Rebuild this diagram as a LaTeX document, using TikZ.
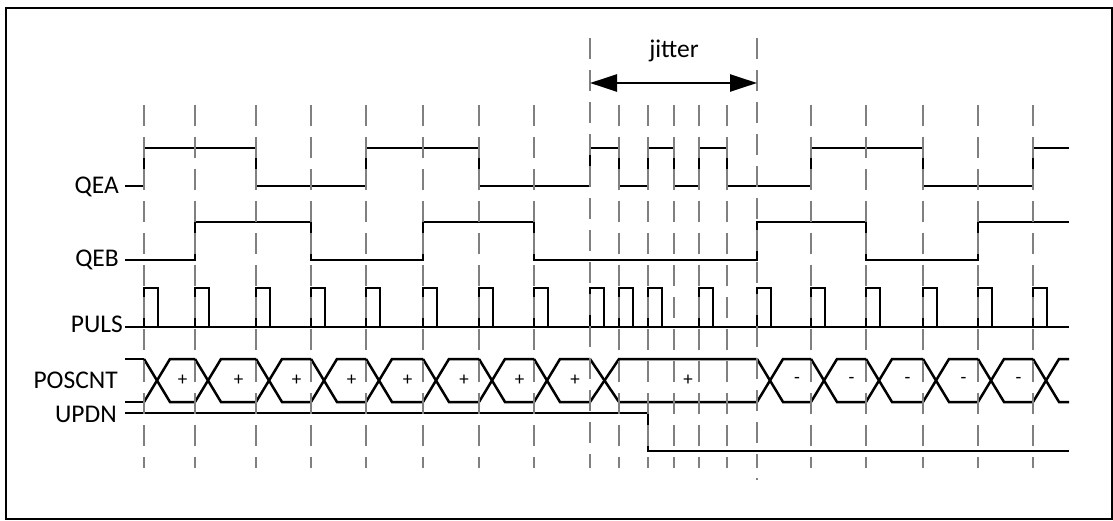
\documentclass[tikz,border=0pt]{standalone}
\usepackage{fontspec}
\setmainfont{Carlito}
\usetikzlibrary{arrows.meta}

\tikzset{
    sig/.style={line width=2.5pt, black},
    guide/.style={line width=2.3pt, black!50, dash pattern=on 21pt off 11pt},
    lbl/.style={anchor=east, inner sep=0pt, font=\fontsize{25.5}{30}\selectfont},
    cnt/.style={inner sep=0pt, font=\fontsize{19}{22}\selectfont}
}

\begin{document}
\begin{tikzpicture}[x=1pt,y=-1pt]
            \useasboundingbox (0,0) rectangle (1113,521);
            \draw [line width=1.2pt] (6,8) rectangle (1112,519);

            \node (QEA) at (119,187) [lbl] {QEA};
            \node (QEB) at (119,260) [lbl] {QEB};
            \node (PULS) at (123,324) [lbl] {PULS};
            \node (POSCNT) at (118,380) [lbl] {POSCNT};
            \node (UPDN) at (117,414) [lbl] {UPDN};

            % QEA and QEB
            \draw [sig] (125,186) -- (144,186) |- (256,148) |- (366,186) |- (479,148) |- (590,186)
                |- (619,148) |- (648,186) |- (674,148) |- (699,186) |- (727,148) |- (811,186)
                |- (923,148) |- (1033,186) |- (1069,148);
            \draw [sig] (125,260) -- (195,260) |- (311,222) |- (423,260) |- (534,222) |- (757,260)
                |- (866,222) |- (978,260) |- (1069,222);

            % PULS
            \draw [sig] (125,327) -- (1069,327);
            \foreach \x in {144,195,256,311,366,423,479,534,590,619,648,699,757,811,866,923,978,1033}
                {
                    \draw [sig] (\x,327) |- (\x+14,288) -- (\x+14,327);
                }

            % POSCNT
            \draw [sig] (125,359) -- (144,359) (125,402) -- (144,402);
            \foreach \x/\w/\n/\s in {144/26/195/+, 195/26/256/+, 256/26/311/+, 311/26/366/+,
                    366/26/423/+, 423/26/479/+, 479/26/534/+, 534/26/590/+, 590/29/757/+,
                    757/26/811/-, 811/26/866/-, 866/26/923/-, 923/26/978/-, 978/26/1033/-}
                {
                    \draw [sig] (\x,359) -- (\x+\w,402) -- (\n,402);
                    \draw [sig] (\x,402) -- (\x+\w,359) -- (\n,359);
                    \node at ({(\x+\w+\n)/2},380) [cnt] {\s};
                }
            \draw [sig] (1033,359) -- (1059,402) -- (1069,402);
            \draw [sig] (1033,402) -- (1059,359) -- (1069,359);

            % UPDN
            \draw [sig] (125,413) -| (648,451) -- (1069,451);

            % guides
            \foreach \x in {144,195,256,311,366,423,479,534,619,648,674,699,727,811,866,923,978,1033}
                {
                    \draw [guide] (\x,105) -- (\x,468);
                }
            \foreach \x in {590,757}
                {
                    \draw [guide] (\x,38) -- (\x,468);
                }
            \draw [line width=1.5pt, black!50] (757,478) -- (757,480);

            % jitter
            \coordinate (J1) at (590,83);
            \coordinate (J2) at (757,83);
            \draw [line width=2.5pt, {Triangle[length=27pt,width=17pt]}-{Triangle[length=27pt,width=17pt]}] (J1) -- (J2);
            \node (jit) at (674,58) [anchor=base, inner sep=0pt, font=\fontsize{25.5}{30}\selectfont] {jitter};

        \end{tikzpicture}
\end{document}
